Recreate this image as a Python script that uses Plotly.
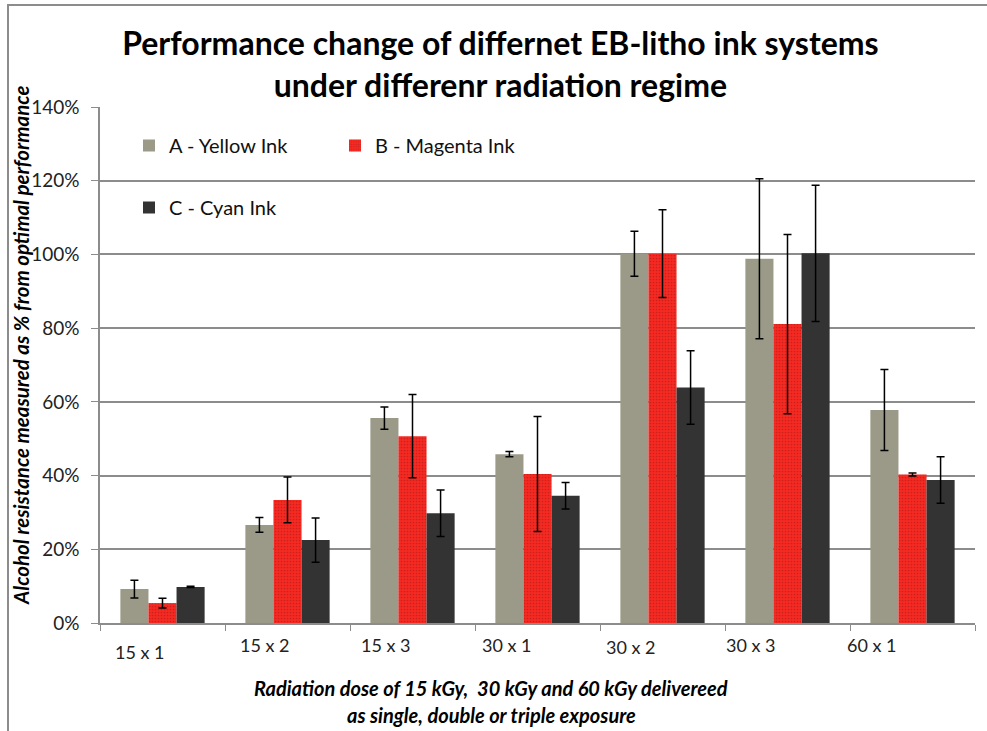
import plotly.graph_objects as go

categories = ["15 x 1", "15 x 2", "15 x 3", "30 x 1", "30 x 2", "30 x 3", "60 x 1"]
yellow_vals = [9.2, 26.6, 55.6, 45.8, 100.2, 98.8, 57.8]
yellow_err = [2.4, 2.0, 3.0, 0.7, 6.1, 21.7, 11.0]
magenta_vals = [5.4, 33.4, 50.7, 40.4, 100.2, 81.1, 40.3]
magenta_err = [1.3, 6.2, 11.3, 15.6, 11.9, 24.3, 0.4]
cyan_vals = [9.8, 22.5, 29.8, 34.5, 63.9, 100.3, 38.8]
cyan_err = [0.2, 6.0, 6.3, 3.6, 10.0, 18.5, 6.3]
y_ticks = [0, 20, 40, 60, 80, 100, 120, 140]
y_tick_labels = ["0%", "20%", "40%", "60%", "80%", "100%", "120%", "140%"]

FONT = "Lato"
W, H = 987, 731
L, R, T, B = 100, 12, 107, 108
PW, PH = W - L - R, H - T - B  # 875 x 516


def py(pix):
    """pixel row -> paper y"""
    return (H - B - pix) / PH


def px(pix):
    """pixel column -> paper x"""
    return (pix - L) / PW


fig = go.Figure()


def err(vals):
    return dict(type="data", array=vals, visible=True, color="#000000", thickness=1.5, width=4)


fig.add_trace(go.Bar(
    x=categories, y=yellow_vals, name="A - Yellow Ink",
    marker=dict(color="#9b9a88", line=dict(width=0)),
    error_y=err(yellow_err), legend="legend",
))
fig.add_trace(go.Bar(
    x=categories, y=magenta_vals, name="B - Magenta Ink",
    marker=dict(color="#f02a24", line=dict(width=0),
                pattern=dict(shape=".", fgcolor="#a01818", bgcolor="#f52a22", size=3, solidity=0.25)),
    error_y=err(magenta_err), legend="legend",
))
fig.add_trace(go.Bar(
    x=categories, y=cyan_vals, name="C - Cyan Ink",
    marker=dict(color="#333333", line=dict(width=0)),
    error_y=err(cyan_err), legend="legend2",
))

# category labels (staggered/offset as in the original)
label_dx = [-23, -23, -27, -31, -32, -37, -41]
label_y = [652, 645, 645, 645, 647, 645, 645]
for i, c in enumerate(categories):
    fig.add_annotation(
        x=c, xref="x", y=py(label_y[i]), yref="paper",
        text=c, showarrow=False, xshift=label_dx[i], xanchor="center", yanchor="middle",
        font=dict(family=FONT, size=18, color="#222222"),
    )

fig.update_layout(
    width=W, height=H,
    margin=dict(l=L, r=R, t=T, b=B, autoexpand=False),
    paper_bgcolor="white", plot_bgcolor="white",
    barmode="group", bargap=0.326, bargroupgap=0.0,
    font=dict(family=FONT, color="#222222"),
    title=dict(
        text="<b>Performance change of differnet EB-litho ink systems<br>under differenr radiation regime</b>",
        x=0.507, xanchor="center", y=1 - 55 / H, yanchor="middle",
        font=dict(family=FONT, size=32, color="#000000"),
    ),
    xaxis=dict(
        showticklabels=False, ticks="outside", ticklen=6, tickcolor="#8c8c8c", tickwidth=1,
        tickson="boundaries", showline=True, linecolor="#8c8c8c", linewidth=1.5,
        showgrid=False, zeroline=False,
    ),
    yaxis=dict(
        range=[0, 140], tickvals=y_ticks, ticktext=y_tick_labels,
        ticks="outside", ticklen=7, tickcolor="#8c8c8c", ticklabelstandoff=8,
        showline=True, linecolor="#8c8c8c", linewidth=1.5,
        showgrid=True, gridcolor="#8c8c8c", gridwidth=1.5, zeroline=False,
        tickfont=dict(family=FONT, size=19, color="#222222"),
    ),
    legend=dict(
        orientation="h", xref="paper", yref="paper",
        x=px(129), y=py(126), xanchor="left", yanchor="top",
        entrywidth=161, entrywidthmode="pixels",
        bgcolor="rgba(0,0,0,0)", font=dict(family=FONT, size=20, color="#111111"),
        traceorder="normal",
    ),
    legend2=dict(
        orientation="h", xref="paper", yref="paper",
        x=px(129), y=py(188), xanchor="left", yanchor="top",
        bgcolor="rgba(0,0,0,0)", font=dict(family=FONT, size=20, color="#111111"),
    ),
    shapes=[
        # white legend box hiding gridline behind the legend
        dict(type="rect", xref="paper", yref="paper",
             x0=px(118), x1=px(529), y0=py(238), y1=py(112),
             fillcolor="white", line=dict(width=0), layer="between"),
        # chart-area border
        dict(type="rect", xref="paper", yref="paper",
             x0=px(8), x1=px(1000), y0=py(760), y1=py(5),
             fillcolor="rgba(0,0,0,0)", line=dict(color="#8c8c8c", width=2), layer="above"),
    ],
)

fig.add_annotation(
    text="<b><i>Alcohol resistance measured as % from optimal performance</i></b>",
    xref="paper", yref="paper", x=px(21), y=py(346), textangle=-90,
    showarrow=False, xanchor="center", yanchor="middle",
    font=dict(family=FONT, size=20.5, color="#000000"),
)
fig.add_annotation(
    text="<b><i>Radiation dose of 15 kGy,  30 kGy and 60 kGy delivereed</i></b>",
    xref="paper", yref="paper", x=px(491), y=py(688),
    showarrow=False, xanchor="center", yanchor="middle",
    font=dict(family=FONT, size=20, color="#000000"),
)
fig.add_annotation(
    text="<b><i>as single, double or triple exposure</i></b>",
    xref="paper", yref="paper", x=px(491), y=py(715),
    showarrow=False, xanchor="center", yanchor="middle",
    font=dict(family=FONT, size=20, color="#000000"),
)

fig.write_html("out.html", config={"displayModeBar": False},
               post_script="document.body.style.margin='0px';")
